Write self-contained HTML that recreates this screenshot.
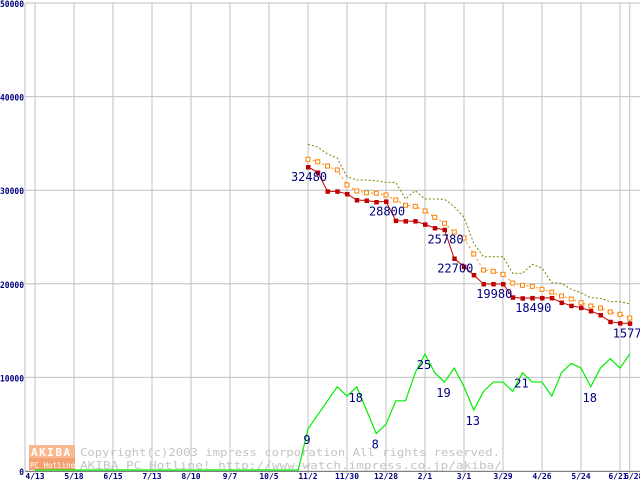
<!DOCTYPE html>
<html><head><meta charset="utf-8"><style>
html,body{margin:0;padding:0;background:#fff;width:640px;height:480px;overflow:hidden}
svg{display:block}
text{font-family:"DejaVu Sans Mono","Liberation Mono",monospace}
</style></head><body>
<svg id="chart" width="640" height="480" viewBox="0 0 640 480" xmlns="http://www.w3.org/2000/svg">
<g id="grid"></g>
<g id="wm">
<rect x="29" y="445" width="46" height="13" fill="#f8b890"/>
<rect x="29" y="458" width="46" height="12" fill="#f4a070"/>
<text x="31" y="456" font-size="11" fill="#fff" font-weight="bold" letter-spacing="1.5">AKIBA</text>
<text x="30" y="468" font-size="7.5" fill="#fff">PC Hotline!</text>
<text x="80" y="456" font-size="11" fill="#c4c4c4" textLength="420" lengthAdjust="spacingAndGlyphs">Copyright(c)2003 impress corporation All rights reserved.</text>
<text x="80" y="469" font-size="11" fill="#c4c4c4" textLength="422" lengthAdjust="spacingAndGlyphs">AKIBA PC Hotline!  http://www.watch.impress.co.jp/akiba/</text>
</g>
<g id="series"></g>
<g id="labels"></g>
</svg>
<script>
const yTicks = [0,10000,20000,30000,40000,50000];
const xTickIdx = [0,4,8,12,16,20,24,28,32,36,40,44,48,52,56,60,61];
const xTickLabels = ["4/13","5/18","6/15","7/13","8/10","9/7","10/5","11/2","11/30","12/28","2/1","3/1","3/29","4/26","5/24","6/21","6/28"];
const startIdx = 28;
const minPrice = [32480,31900,29880,29880,29600,28950,28900,28740,28800,26750,26700,26700,26350,25960,25780,22700,21830,20940,19980,19980,19980,18560,18460,18490,18490,18490,18000,17660,17450,17100,16670,15950,15800,15770];
const avgPrice = [33300,33040,32580,32160,30560,29910,29730,29670,29490,28950,28390,28280,27780,27100,26460,25530,24890,23180,21470,21330,21010,20080,19840,19730,19410,19120,18700,18380,17980,17630,17410,16990,16740,16340];
const maxPrice = [34900,34620,33870,33440,31440,31090,31090,31010,30840,30840,29060,29950,29060,29060,29030,28240,27100,24320,22890,22890,22890,21120,21120,22080,21690,20120,20050,19410,19050,18510,18450,18090,18090,17840];
const shopCount = [9,12,15,18,16,18,13,8,10,15,15,21,25,21,19,22,18,13,17,19,19,17,21,19,19,16,21,23,22,18,22,24,22,25];
const priceLabelIdx = [0,8,14,15,19,23,33];
const countLabelIdx = [0,5,7,12,14,17,22,29];
const countScale = 500;

const NS="http://www.w3.org/2000/svg";
const xs=i=>35+i*9.75;
const ys=v=>471-v*0.00936;
function mk(tag,attrs,parent){const e=document.createElementNS(NS,tag);for(const k in attrs)e.setAttribute(k,attrs[k]);parent.appendChild(e);return e;}
const grid=document.getElementById('grid'),ser=document.getElementById('series'),lab=document.getElementById('labels');

yTicks.forEach(v=>{
  const l=mk('line',{x1:25,x2:640,y1:ys(v),y2:ys(v),stroke:'#c0c0c0','stroke-width':1},grid);
  
  
  const s=String(v);
  const w=s.length*4.8;
  const t=mk('text',{x:24-w,y:ys(v)+4,'font-size':9,'font-weight':'bold',fill:'#000080',textLength:w,lengthAdjust:'spacingAndGlyphs'},grid);
  t.textContent=s;
  
  
});
const ax=mk('line',{x1:25,x2:25,y1:ys(50000),y2:471,stroke:'#c0c0c0'},grid);


xTickIdx.forEach((ix,k)=>{
  const l=mk('line',{x1:xs(ix),x2:xs(ix),y1:ys(50000),y2:474,stroke:'#c0c0c0'},grid);
  
  
  const t=mk('text',{x:xs(ix)+(k==16?4:k==15?-2:0),y:479,'text-anchor':'middle','font-size':8,'font-weight':'bold',fill:'#000080'},grid);
  t.textContent=xTickLabels[k];
  
  
});
const bx=mk('line',{x1:25,x2:640,y1:471.5,y2:471.5,stroke:'#808080'},grid);



let gp=[];
for(let i=0;i<startIdx;i++)gp.push(xs(i)+','+(ys(0)-1));
shopCount.forEach((c,i)=>gp.push(xs(startIdx+i)+','+ys(c*countScale)));
const g=mk('polyline',{points:gp.join(' '),fill:'none',stroke:'#00ee00','stroke-width':1.2},ser);



function pts(arr){return arr.map((v,i)=>xs(startIdx+i)+','+ys(v)).join(' ');}
const mx=mk('polyline',{points:pts(maxPrice),fill:'none',stroke:'#808000','stroke-width':1,'stroke-dasharray':'2,2'},ser);


const av=mk('polyline',{points:pts(avgPrice),fill:'none',stroke:'#ff8000','stroke-width':1,'stroke-dasharray':'2,3'},ser);


avgPrice.forEach((v,i)=>{
  const r=mk('rect',{x:xs(startIdx+i)-2,y:ys(v)-2,width:4,height:4,fill:'#fff',stroke:'#ff8000','stroke-width':1},ser);
  
  
});
const mn=mk('polyline',{points:pts(minPrice),fill:'none',stroke:'#c00000','stroke-width':1},ser);


minPrice.forEach((v,i)=>{
  const r=mk('rect',{x:xs(startIdx+i)-2,y:ys(v)-2,width:4.5,height:4.5,fill:'#c00000'},ser);
  
  
});
priceLabelIdx.forEach(i=>{
  const t=mk('text',{x:xs(startIdx+i)+1,y:ys(minPrice[i])+14,'text-anchor':'middle','font-size':12,fill:'#000080'},lab);
  t.textContent=minPrice[i];
  
  
});
countLabelIdx.forEach(i=>{
  const t=mk('text',{x:xs(startIdx+i)-1,y:ys(shopCount[i]*countScale)+15,'text-anchor':'middle','font-size':12,fill:'#000080'},lab);
  t.textContent=shopCount[i];
  
  
});
</script>
</body></html>
